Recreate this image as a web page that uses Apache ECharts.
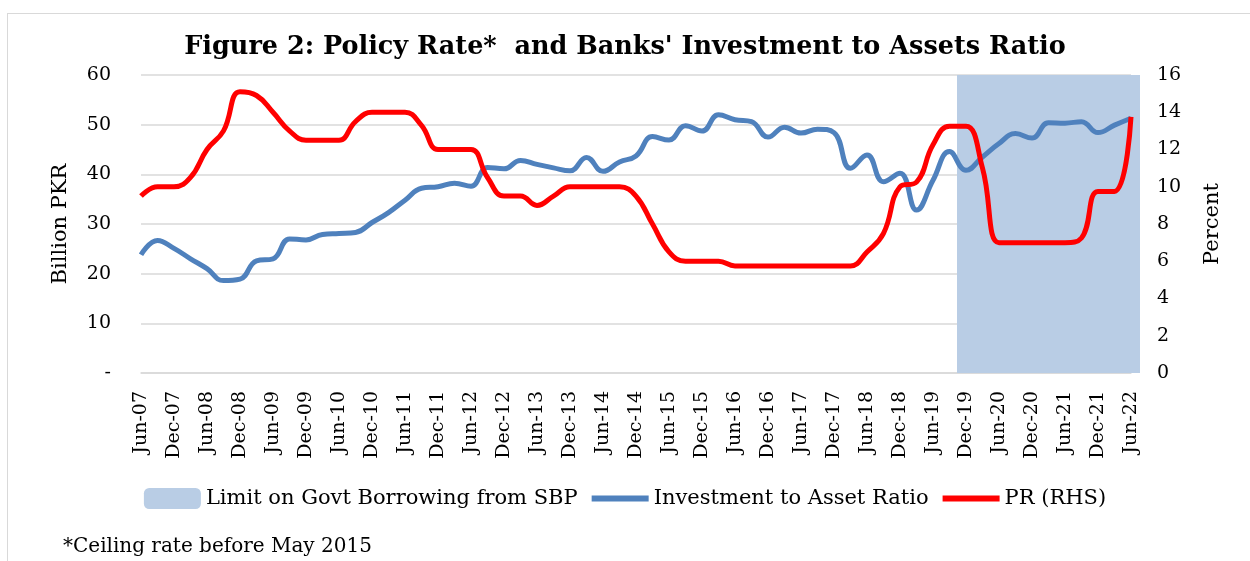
<!DOCTYPE html>
<html>
<head>
<meta charset="utf-8">
<script src="https://cdn.jsdelivr.net/npm/echarts@6/dist/echarts.min.js"></script>
<style>
  html, body { margin:0; padding:0; background:#fff; }
  #frame { position:absolute; left:7px; top:13px; width:1400px; height:700px; border:1.5px solid #d9d9d9; box-sizing:border-box; }
  #chart { position:absolute; left:0; top:0; width:1250px; height:561px; }
</style>
</head>
<body>
<div id="frame"></div>
<div id="chart"></div>
<script>
// Quarterly categories (Jun-07 .. Jun-22)
const categories = [
  'Jun-07','Sep-07','Dec-07','Mar-08','Jun-08','Sep-08','Dec-08','Mar-09','Jun-09','Sep-09',
  'Dec-09','Mar-10','Jun-10','Sep-10','Dec-10','Mar-11','Jun-11','Sep-11','Dec-11','Mar-12',
  'Jun-12','Sep-12','Dec-12','Mar-13','Jun-13','Sep-13','Dec-13','Mar-14','Jun-14','Sep-14',
  'Dec-14','Mar-15','Jun-15','Sep-15','Dec-15','Mar-16','Jun-16','Sep-16','Dec-16','Mar-17',
  'Jun-17','Sep-17','Dec-17','Mar-18','Jun-18','Sep-18','Dec-18','Mar-19','Jun-19','Sep-19',
  'Dec-19','Mar-20','Jun-20','Sep-20','Dec-20','Mar-21','Jun-21','Sep-21','Dec-21','Mar-22',
  'Jun-22'
];

// Investment to Asset Ratio (left axis)
const invRatio = [
  23.8, 26.7, 25.1, 23.0, 21.0, 18.6, 18.9, 22.6, 23.0, 27.0,
  26.8, 27.9, 28.1, 28.3, 30.3, 32.3, 34.8, 37.2, 37.5, 38.2,
  37.6, 41.4, 41.1, 42.8, 42.0, 41.3, 40.7, 43.4, 40.6, 42.5,
  43.7, 47.6, 46.9, 49.8, 48.7, 52.0, 51.0, 50.6, 47.5, 49.5,
  48.3, 49.1, 48.4, 41.2, 43.9, 38.5, 40.2, 32.8, 38.8, 44.6,
  40.8, 43.5, 46.2, 48.2, 47.3, 50.4, 50.3, 50.6, 48.4, 49.9,
  51.3
];

// Policy rate, percent (right axis)
const policyRate = [
  9.5, 10.0, 10.0, 10.5, 12.0, 13.0, 15.1, 14.9, 14.0, 13.0,
  12.5, 12.5, 12.5, 13.5, 14.0, 14.0, 14.0, 13.3, 12.0, 12.0,
  12.0, 10.5, 9.5, 9.5, 9.0, 9.5, 10.0, 10.0, 10.0, 10.0,
  9.5, 8.0, 6.5, 6.0, 6.0, 6.0, 5.75, 5.75, 5.75, 5.75,
  5.75, 5.75, 5.75, 5.75, 6.5, 7.5, 10.0, 10.25, 12.25, 13.25,
  13.25, 11.0, 7.0, 7.0, 7.0, 7.0, 7.0, 7.25, 9.75, 9.75,
  13.75
];

// Limit on Govt Borrowing from SBP (shaded period)
const govLimit = [
  null, null, null, null, null, null, null, null, null, null,
  null, null, null, null, null, null, null, null, null, null,
  null, null, null, null, null, null, null, null, null, null,
  null, null, null, null, null, null, null, null, null, null,
  null, null, null, null, null, null, null, null, null, null,
  60, 60, 60, 60, 60, 60, 60, 60, 60, 60,
  60
];

const leftTicks = { min: 0, max: 60, interval: 10 };
const rightTicks = { min: 0, max: 16, interval: 2 };

const FONT = 'DejaVu Serif';
const LINE_ICON = 'path://M0,0 H57 V6 H0 Z';
const chart = echarts.init(document.getElementById('chart'));
chart.setOption({
  animation: false,
  textStyle: { fontFamily: FONT, color: '#000' },
  title: [
    {
      text: "Figure 2: Policy Rate*  and Banks' Investment to Assets Ratio",
      left: 'center', top: 29,
      textStyle: { fontFamily: FONT, fontWeight: 'bold', fontSize: 25.5, color: '#000' }
    },
    {
      text: '*Ceiling rate before May 2015',
      left: 58, top: 532,
      textStyle: { fontFamily: FONT, fontWeight: 'normal', fontSize: 20, color: '#000' }
    }
  ],
  grid: { left: 141, right: 119, top: 75, bottom: 188 },
  legend: {
    top: 483, left: 'center',
    itemWidth: 57, itemHeight: 21, itemGap: 14,
    symbolKeepAspect: true,
    textStyle: { fontFamily: FONT, fontSize: 21, color: '#000' },
    data: [
      { name: 'Limit on Govt Borrowing from SBP', icon: 'roundRect' },
      { name: 'Investment to Asset Ratio', icon: LINE_ICON },
      { name: 'PR (RHS)', icon: LINE_ICON }
    ]
  },
  xAxis: {
    type: 'category', data: categories, boundaryGap: false,
    axisLine: { lineStyle: { color: '#d9d9d9', width: 1.5 } },
    axisTick: { show: false },
    axisLabel: { interval: 1, rotate: 90, margin: 18, color: '#000', fontSize: 19, fontFamily: FONT }
  },
  yAxis: [
    {
      type: 'value', min: leftTicks.min, max: leftTicks.max, interval: leftTicks.interval,
      name: 'Billion PKR', nameLocation: 'middle', nameRotate: 90, nameGap: 70,
      nameTextStyle: { fontFamily: FONT, fontSize: 21, color: '#000' },
      axisLine: { show: false }, axisTick: { show: false },
      axisLabel: { formatter: v => (v === 0 ? '-' : String(v)), margin: 30, color: '#000', fontSize: 19, fontFamily: FONT },
      splitLine: { lineStyle: { color: '#d9d9d9', width: 1.5 } }
    },
    {
      type: 'value', position: 'right', min: rightTicks.min, max: rightTicks.max, interval: rightTicks.interval,
      name: 'Percent', nameLocation: 'middle', nameRotate: 90, nameGap: 71,
      nameTextStyle: { fontFamily: FONT, fontSize: 21, color: '#000' },
      axisLine: { show: false }, axisTick: { show: false },
      axisLabel: { margin: 26, color: '#000', fontSize: 19, fontFamily: FONT },
      splitLine: { show: false }
    }
  ],
  series: [
    {
      name: 'Limit on Govt Borrowing from SBP', type: 'bar', data: govLimit,
      yAxisIndex: 0, barWidth: 18, clip: false, silent: true, z: 1,
      itemStyle: { color: '#B9CDE5', borderWidth: 0 }
    },
    {
      name: 'Investment to Asset Ratio', type: 'line', data: invRatio, yAxisIndex: 0,
      smooth: 0.45, symbol: 'none', z: 3,
      lineStyle: { color: '#4F81BD', width: 5 }, itemStyle: { color: '#4F81BD' }
    },
    {
      name: 'PR (RHS)', type: 'line', data: policyRate, yAxisIndex: 1,
      smooth: 0.45, symbol: 'none', z: 4,
      lineStyle: { color: '#FF0000', width: 5 }, itemStyle: { color: '#FF0000' }
    }
  ]
});
</script>
</body>
</html>
